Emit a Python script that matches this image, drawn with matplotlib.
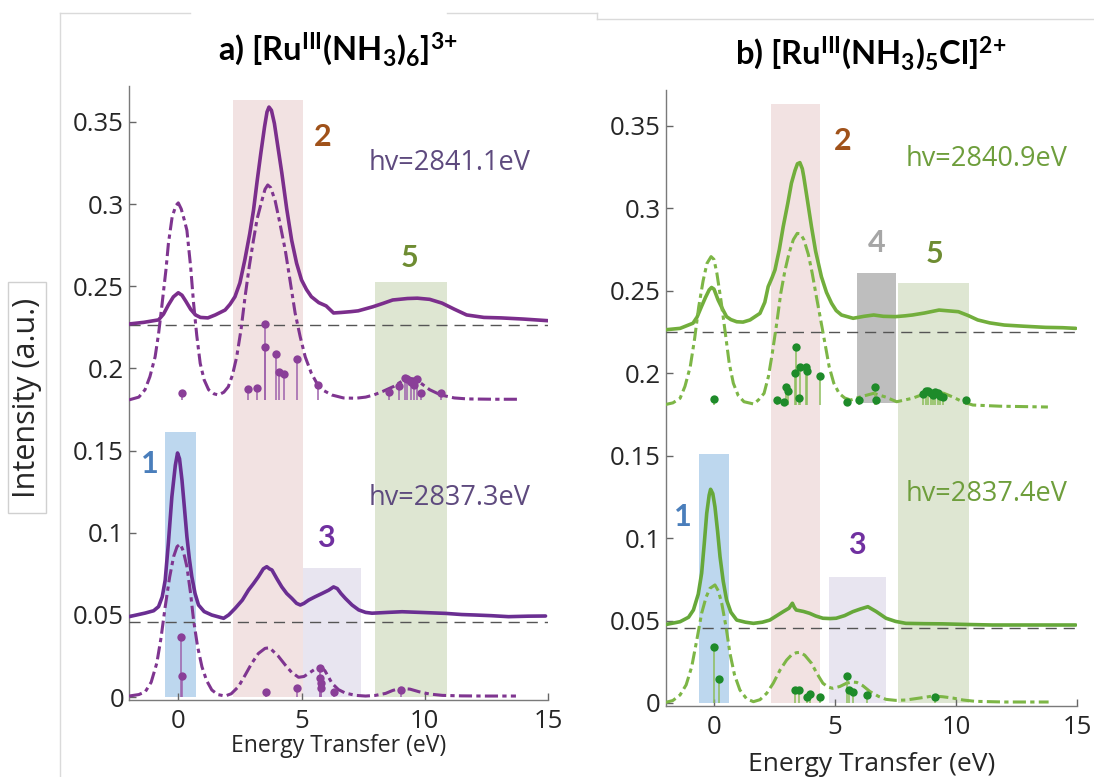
import numpy as np
import matplotlib
matplotlib.use('Agg')
import matplotlib.pyplot as plt
from matplotlib.lines import Line2D
from matplotlib.patches import Rectangle

plt.rcParams['font.family'] = ['Open Sans', 'DejaVu Sans']
plt.rcParams['mathtext.fontset'] = 'custom'
plt.rcParams['mathtext.rm'] = 'Lato:bold'
plt.rcParams['mathtext.it'] = 'Lato:bold'
plt.rcParams['mathtext.bf'] = 'Lato:bold'

# ---- panel a: [Ru(NH3)6]3+ ----
a_hi_x = [-2.0, -1.4, -0.8, -0.6, -0.4, -0.2, 0.0, 0.15, 0.3, 0.5, 0.7, 0.9, 1.2, 1.5, 1.9, 2.1, 2.3,
          2.5, 2.7, 2.9, 3.05, 3.2, 3.35, 3.5, 3.6, 3.68, 3.78, 3.9, 4.05, 4.2, 4.4, 4.6, 4.8, 5.0,
          5.2, 5.4, 5.7, 6.0, 6.3, 6.6, 7.0, 7.3, 7.9, 8.3, 8.7, 9.3, 9.7, 10.2, 10.7, 11.2, 11.7,
          12.4, 13.1, 14.0, 15.0]
a_hi_y = [0.227, 0.228, 0.2295, 0.233, 0.2386, 0.2435, 0.246, 0.2445, 0.241, 0.236, 0.2325, 0.231,
          0.2307, 0.2325, 0.2355, 0.239, 0.2436, 0.252, 0.266, 0.282, 0.296, 0.314, 0.331, 0.347,
          0.356, 0.359, 0.357, 0.349, 0.334, 0.319, 0.297, 0.278, 0.264, 0.2538, 0.248, 0.2436,
          0.240, 0.238, 0.2337, 0.234, 0.2345, 0.235, 0.2375, 0.2395, 0.2416, 0.2425, 0.2427,
          0.242, 0.2397, 0.236, 0.2325, 0.231, 0.2307, 0.230, 0.229]

a_hi_calc_x = [-2.0, -1.6, -1.35, -1.15, -0.94, -0.8, -0.67, -0.5, -0.4, -0.25, -0.1, 0.0, 0.12,
               0.25, 0.35, 0.5, 0.62, 0.75, 0.89, 1.05, 1.23, 1.45, 1.63, 1.85, 2.03, 2.2, 2.37,
               2.55, 2.71, 2.88, 3.05, 3.2, 3.39, 3.52, 3.63, 3.75, 3.93, 4.1, 4.34, 4.55, 4.74,
               4.95, 5.15, 5.4, 5.62, 5.9, 6.23, 6.7, 7.2, 7.6, 7.93, 8.3, 8.74, 9.0, 9.3, 9.6,
               9.84, 10.2, 10.65, 11.2, 11.73, 12.8, 13.8]
a_hi_calc_y = [0.1808, 0.1825, 0.187, 0.195, 0.207, 0.221, 0.2375, 0.260, 0.276, 0.292, 0.299,
               0.3007, 0.297, 0.290, 0.284, 0.262, 0.2398, 0.220, 0.203, 0.193, 0.187, 0.1845,
               0.1838, 0.1855, 0.1888, 0.196, 0.207, 0.224, 0.2436, 0.262, 0.278, 0.291, 0.302,
               0.309, 0.3116, 0.310, 0.302, 0.290, 0.272, 0.252, 0.2337, 0.219, 0.207, 0.197,
               0.191, 0.1865, 0.1838, 0.182, 0.1818, 0.1825, 0.1838, 0.186, 0.189, 0.1915, 0.194,
               0.1935, 0.191, 0.187, 0.1838, 0.182, 0.1814, 0.1812, 0.1812]

a_lo_x = [-2.0, -1.34, -1.0, -0.8, -0.65, -0.53, -0.4, -0.26, -0.12, -0.03, 0.05, 0.15, 0.25, 0.35,
          0.45, 0.55, 0.68, 0.82, 1.05, 1.36, 1.84, 2.05, 2.31, 2.6, 2.85, 3.05, 3.25, 3.45, 3.59,
          3.7, 3.8, 4.0, 4.2, 4.4, 4.61, 4.8, 4.95, 5.1, 5.29, 5.55, 5.83, 6.1, 6.3, 6.45, 6.6,
          6.78, 7.05, 7.32, 7.6, 7.86, 8.5, 9.08, 9.8, 10.84, 11.5, 12.06, 12.7, 13.4, 14.2, 14.9]
a_lo_y = [0.0489, 0.0511, 0.0525, 0.055, 0.061, 0.0712, 0.094, 0.1219, 0.141, 0.1485, 0.145, 0.132,
          0.115, 0.0976, 0.084, 0.0732, 0.063, 0.056, 0.052, 0.0499, 0.0479, 0.050, 0.054, 0.059,
          0.0651, 0.069, 0.0732, 0.078, 0.0793, 0.078, 0.0773, 0.072, 0.067, 0.063, 0.060, 0.057,
          0.056, 0.057, 0.059, 0.061, 0.063, 0.065, 0.067, 0.066, 0.063, 0.060, 0.056, 0.053,
          0.0515, 0.051, 0.0515, 0.0519, 0.0515, 0.0509, 0.0502, 0.0499, 0.0495, 0.0489, 0.0492,
          0.0493]

a_lo_calc_x = [-2.0, -1.6, -1.34, -1.1, -0.87, -0.7, -0.53, -0.35, -0.19, -0.05, 0.08, 0.2, 0.35,
               0.5, 0.62, 0.78, 0.96, 1.15, 1.36, 1.6, 1.9, 2.15, 2.44, 2.7, 2.98, 3.25, 3.52,
               3.7, 3.8, 4.05, 4.34, 4.6, 4.88, 5.1, 5.29, 5.55, 5.77, 5.95, 6.24, 6.5, 6.78, 7.2,
               7.6, 8.0, 8.41, 8.7, 9.02, 9.4, 9.77, 10.2, 10.72, 11.5, 12.5, 13.7]
a_lo_calc_y = [0.0006, 0.0015, 0.0032, 0.009, 0.0207, 0.036, 0.055, 0.073, 0.0854, 0.0915, 0.0931,
               0.089, 0.0793, 0.063, 0.0469, 0.031, 0.0184, 0.010, 0.0043, 0.0015, 0.0006, 0.002,
               0.0063, 0.013, 0.0205, 0.0265, 0.0296, 0.030, 0.0286, 0.025, 0.0195, 0.015, 0.012,
               0.0125, 0.0144, 0.0170, 0.0184, 0.016, 0.0083, 0.0045, 0.0024, 0.001, 0.0006, 0.001,
               0.0022, 0.004, 0.0053, 0.0048, 0.0032, 0.0018, 0.001, 0.0007, 0.0006, 0.0006]

a_hi_stick_x = [0.15, 2.82, 3.2, 3.5, 3.51, 3.98, 4.1, 4.28, 4.8, 5.68,
                8.54, 8.95, 9.19, 9.3, 9.43, 9.56, 9.7, 9.84, 10.65]
a_hi_stick_y = [0.1852, 0.1875, 0.188, 0.2268, 0.2128, 0.2088, 0.198, 0.1966, 0.2055, 0.190,
                0.1856, 0.189, 0.194, 0.1935, 0.192, 0.190, 0.1935, 0.185, 0.185]
a_lo_stick_x = [0.13, 0.14, 3.54, 4.82, 5.74, 5.76, 5.78, 5.8, 6.3, 9.02]
a_lo_stick_y = [0.0364, 0.0128, 0.0032, 0.0055, 0.0177, 0.0116, 0.0085, 0.0055, 0.0032, 0.0043]

# ---- panel b: [Ru(NH3)5Cl]2+ ----
b_hi_x = [-2.1, -1.4, -0.87, -0.7, -0.52, -0.35, -0.2, -0.1, 0.0, 0.17, 0.35, 0.52, 0.7, 0.94,
          1.2, 1.49, 1.9, 2.1, 2.24, 2.4, 2.52, 2.7, 2.86, 3.05, 3.2, 3.35, 3.45, 3.55, 3.65, 3.71,
          3.85, 4.03, 4.2, 4.44, 4.65, 4.86, 5.05, 5.27, 5.75, 6.2, 6.6, 7.0, 7.5, 7.9, 8.2, 8.7,
          9.3, 9.7, 10.1, 10.5, 10.9, 11.4, 12.0, 12.8, 13.7, 14.4, 14.95]
b_hi_y = [0.2262, 0.2272, 0.2303, 0.234, 0.2403, 0.246, 0.2505, 0.252, 0.251, 0.2444, 0.239,
          0.2343, 0.2325, 0.2312, 0.231, 0.2323, 0.2363, 0.243, 0.2525, 0.258, 0.2626, 0.275,
          0.2888, 0.303, 0.3152, 0.323, 0.327, 0.3277, 0.324, 0.3192, 0.306, 0.2888, 0.274,
          0.2585, 0.249, 0.2424, 0.238, 0.2353, 0.2333, 0.2345, 0.2353, 0.2345, 0.2343, 0.2348,
          0.2353, 0.2365, 0.2383, 0.2378, 0.2373, 0.235, 0.2323, 0.2305, 0.2292, 0.2285, 0.2278,
          0.2276, 0.2272]

b_hi_calc_x = [-2.1, -1.7, -1.4, -1.2, -0.98, -0.8, -0.63, -0.45, -0.29, -0.12, 0.0, 0.12, 0.3,
               0.47, 0.63, 0.8, 1.0, 1.24, 1.65, 1.85, 2.07, 2.25, 2.41, 2.6, 2.76, 2.93, 3.1,
               3.28, 3.44, 3.58, 3.72, 3.9, 4.06, 4.25, 4.41, 4.6, 4.76, 4.95, 5.17, 5.4, 5.65,
               6.06, 6.6, 7.1, 7.55, 8.2, 8.7, 9.1, 9.5, 9.85, 10.3, 10.7, 11.8, 13.8]
b_hi_calc_y = [0.1807, 0.182, 0.1848, 0.192, 0.204, 0.221, 0.2403, 0.256, 0.2666, 0.2707, 0.269,
               0.2606, 0.243, 0.2242, 0.206, 0.1939, 0.1865, 0.1827, 0.1813, 0.184, 0.1878, 0.198,
               0.2121, 0.231, 0.2485, 0.262, 0.2727, 0.281, 0.2848, 0.2845, 0.2808, 0.272, 0.2606,
               0.245, 0.2323, 0.217, 0.204, 0.194, 0.1878, 0.185, 0.1837, 0.1857, 0.1878, 0.1855,
               0.1827, 0.1848, 0.1875, 0.1888, 0.1878, 0.1857, 0.1825, 0.1807, 0.180, 0.1795]

b_lo_x = [-2.09, -1.4, -1.05, -0.85, -0.65, -0.51, -0.4, -0.3, -0.2, -0.14, -0.05, 0.04, 0.15,
          0.25, 0.38, 0.52, 0.7, 0.94, 1.3, 1.63, 2.0, 2.31, 2.6, 2.86, 3.1, 3.24, 3.32, 3.4, 3.7,
          3.95, 4.2, 4.5, 4.8, 5.05, 5.4, 5.74, 6.05, 6.36, 6.7, 7.11, 7.5, 7.93, 8.7, 9.44,
          10.5, 11.5, 13.0, 14.95]
b_lo_y = [0.0473, 0.0493, 0.052, 0.0564, 0.066, 0.0787, 0.097, 0.115, 0.126, 0.1296, 0.127,
          0.119, 0.104, 0.0887, 0.074, 0.0625, 0.055, 0.0503, 0.049, 0.0483, 0.049, 0.0503, 0.053,
          0.0554, 0.0575, 0.0605, 0.058, 0.0564, 0.0555, 0.0544, 0.0528, 0.0514, 0.0512, 0.0514,
          0.053, 0.0554, 0.057, 0.0584, 0.0555, 0.0514, 0.0495, 0.0483, 0.0481, 0.048, 0.0476,
          0.0473, 0.0473, 0.0473]

b_lo_calc_x = [-2.09, -1.7, -1.4, -1.15, -0.92, -0.7, -0.51, -0.33, -0.17, 0.04, 0.18, 0.32, 0.5,
               0.66, 0.85, 1.07, 1.35, 1.63, 1.9, 2.18, 2.45, 2.73, 3.0, 3.2, 3.4, 3.55, 3.75,
               4.03, 4.25, 4.5, 4.7, 4.9, 5.2, 5.48, 5.7, 5.9, 6.15, 6.45, 6.8, 7.11, 7.5, 7.93,
               8.5, 9.04, 9.45, 9.87, 10.3, 10.8, 12.0, 13.83]
b_lo_calc_y = [0.0, 0.0015, 0.0049, 0.011, 0.022, 0.039, 0.0544, 0.064, 0.0695, 0.0716, 0.068,
               0.0605, 0.046, 0.0301, 0.017, 0.0079, 0.0025, 0.0008, 0.002, 0.0059, 0.012, 0.02,
               0.026, 0.0291, 0.0305, 0.0307, 0.029, 0.0241, 0.018, 0.012, 0.0098, 0.0089, 0.010,
               0.012, 0.0127, 0.0125, 0.0105, 0.0069, 0.004, 0.0022, 0.0016, 0.0018, 0.003,
               0.0042, 0.0038, 0.003, 0.0018, 0.001, 0.0006, 0.0006]

b_hi_stick_x = [0.01, 2.62, 2.89, 2.98, 3.05, 3.35, 3.39, 3.53, 3.55, 3.8, 3.83, 4.38, 5.48, 5.99,
                6.65, 6.69, 8.65, 8.75, 8.85, 8.95, 9.05, 9.15, 9.25, 9.35, 9.45, 10.4]
b_hi_stick_y = [0.1842, 0.1838, 0.1828, 0.1915, 0.189, 0.2003, 0.2161, 0.1848, 0.204, 0.2036,
                0.2016, 0.1983, 0.1828, 0.1838, 0.1915, 0.1838, 0.1875, 0.189, 0.1895, 0.188,
                0.187, 0.1885, 0.188, 0.186, 0.1855, 0.1835]
b_lo_stick_x = [0.01, 0.2, 3.35, 3.53, 3.83, 3.97, 4.38, 5.48, 5.59, 5.73, 6.31, 9.13]
b_lo_stick_y = [0.034, 0.0146, 0.0079, 0.008, 0.0038, 0.0054, 0.0036, 0.0164, 0.0079, 0.0069,
                0.005, 0.0036]

# shaded feature windows: (x0, x1, y0, y1, label)
a_bands = [(-0.53, 0.73, 0.0, 0.161, '1'), (2.2, 5.08, 0.0, 0.363, '2'),
           (5.08, 7.4, 0.0, 0.0785, '3'), (8.0, 10.9, 0.0, 0.2526, '5')]
b_bands = [(-0.62, 0.62, 0.0, 0.151, '1'), (2.36, 4.38, 0.0, 0.363, '2'),
           (4.75, 7.1, 0.0, 0.0764, '3'), (5.9, 7.52, 0.182, 0.2608, '4'),
           (7.6, 10.54, 0.0, 0.255, '5')]
a_band_labels = {'1': (-1.14, 0.142), '2': (5.85, 0.341), '3': (6.0, 0.097), '5': (9.4, 0.267)}
b_band_labels = {'1': (-1.28, 0.113), '2': (5.3, 0.341), '3': (5.9, 0.096),
                 '4': (6.73, 0.279), '5': (9.1, 0.272)}

band_fill = {'1': '#BDD7EE', '2': '#F2E2E2', '3': '#E8E5F0', '4': '#BEBEBE', '5': '#DEE6D2'}
band_text = {'1': '#4A7EBB', '2': '#A0521A', '3': '#7030A0', '4': '#A6A6A6', '5': '#6E8C32'}

y_ticks = [0, 0.05, 0.1, 0.15, 0.2, 0.25, 0.3, 0.35]
y_ticklabels = ['0', '0.05', '0.1', '0.15', '0.2', '0.25', '0.3', '0.35']
x_ticks = [0, 5, 10, 15]

dashdot = (0, (4.3, 1.4, 1.4, 1.4))

fig = plt.figure(figsize=(10.94, 7.77), dpi=100)

# faint frame lines around the layout
grey = '#DADADA'
for xs, ys in [([60, 190], [13, 13]), ([447, 597], [13, 13]), ([597, 597], [13, 19]),
               ([597, 1094], [19, 19]), ([60, 60], [13, 777])]:
    fig.add_artist(Line2D([x / 1094 for x in xs], [1 - y / 777 for y in ys],
                          color=grey, lw=1))


def draw_panel(ax, bands, band_labels, curves, sticks, stick_line, stick_dot,
               ref_levels, hv_texts, hv_col, title, xlabel_size, xlabel_pad):
    for x0, x1, y0, y1, lab in bands:
        ax.fill_between([x0, x1], [y0, y0], [y1, y1], color=band_fill[lab], lw=0, zorder=0)
    for lab, (tx, ty) in band_labels.items():
        ax.text(tx, ty, lab, color=band_text[lab], fontsize=22, fontweight='bold',
                family='Lato', ha='center', va='center')
    for lvl in ref_levels:
        ax.plot([-2, 15], [lvl, lvl], color='#555555', lw=1.0, dashes=(8, 5), zorder=3)
    for (x, y, c, ls) in curves:
        if ls == 'solid':
            ax.plot(x, y, color=c, lw=2.6, zorder=4, solid_capstyle='round')
        else:
            ax.plot(x, y, color=c, lw=2.2, linestyle=dashdot, zorder=4)
    for sx, sy, base in sticks:
        ax.vlines(sx, base, sy, color=stick_line, lw=1.1, zorder=5)
        ax.plot(sx, sy, 'o', color=stick_dot, ms=6, mec='none', zorder=6)
    for (tx, ty, s) in hv_texts:
        ax.text(tx, ty, s, color=hv_col, fontsize=19.5, ha='center', va='center')

    ax.set_xlim(-2, 15)
    ax.set_ylim(-0.002, 0.372)
    ax.set_xticks(x_ticks)
    ax.set_yticks(y_ticks)
    ax.set_yticklabels(y_ticklabels)
    ax.tick_params(direction='in', length=5, width=1, colors='#666666', labelcolor='#262626',
                   labelsize=18.5)
    ax.tick_params(axis='x', pad=6)
    for s in ['top', 'right']:
        ax.spines[s].set_visible(False)
    for s in ['left', 'bottom']:
        ax.spines[s].set_color('#7A7A7A')
        ax.spines[s].set_linewidth(1.0)
    ax.set_xlabel('Energy Transfer (eV)', fontsize=xlabel_size, color='#262626',
                  labelpad=xlabel_pad)
    ax.set_title(title, fontsize=23.5, fontweight='bold', family='Lato', pad=18)


ax_a = fig.add_axes([0.1179, 0.0987, 0.383, 0.791])
draw_panel(ax_a, a_bands, a_band_labels,
           [(a_hi_x, a_hi_y, '#7B2E8C', 'solid'), (a_hi_calc_x, a_hi_calc_y, '#7F3590', 'dash'),
            (a_lo_x, a_lo_y, '#6A2E92', 'solid'), (a_lo_calc_x, a_lo_calc_y, '#7F3590', 'dash')],
           [(a_hi_stick_x, a_hi_stick_y, 0.1808), (a_lo_stick_x, a_lo_stick_y, 0.0)],
           '#9E62AC', '#8A3F98', [0.2262, 0.0456],
           [(11.0, 0.325, 'hv=2841.1eV'), (11.0, 0.121, 'hv=2837.3eV')], '#5E4A7E',
           r'a) [Ru$^{III}$(NH$_3$)$_6$]$^{3\!+}$', 16.5, 0)

ax_b = fig.add_axes([0.6084, 0.091, 0.376, 0.7937])
draw_panel(ax_b, b_bands, b_band_labels,
           [(b_hi_x, b_hi_y, '#72AE3C', 'solid'), (b_hi_calc_x, b_hi_calc_y, '#7DB646', 'dash'),
            (b_lo_x, b_lo_y, '#66A83A', 'solid'), (b_lo_calc_x, b_lo_calc_y, '#7DB646', 'dash')],
           [(b_hi_stick_x, b_hi_stick_y, 0.181), (b_lo_stick_x, b_lo_stick_y, 0.0)],
           '#8DBE5C', '#1E8B2A', [0.225, 0.0454],
           [(11.25, 0.33, 'hv=2840.9eV'), (11.25, 0.127, 'hv=2837.4eV')], '#6E9E3C',
           r'b) [Ru$^{III}$(NH$_3$)$_5$Cl]$^{2\!+}$', 19, 9)

fig.text(27 / 1094, 1 - 398 / 777, 'Intensity (a.u.)', rotation=90, fontsize=22,
         color='#262626', ha='center', va='center')
fig.add_artist(Rectangle((8 / 1094, 1 - 513 / 777), 38 / 1094, 231 / 777, fill=False,
                         edgecolor='#D0D0D0', lw=1))

fig.savefig('out.png', dpi=100)
